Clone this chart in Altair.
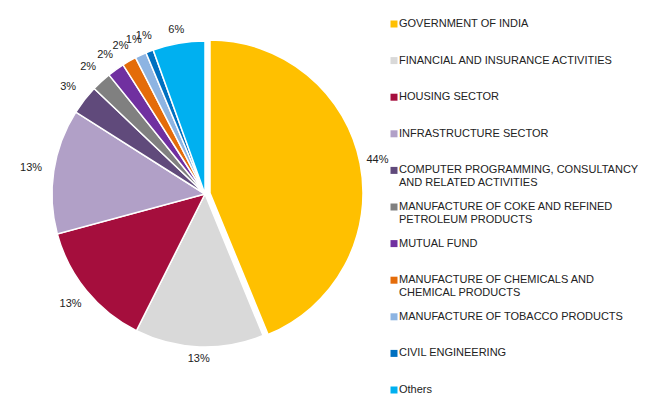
import altair as alt
import pandas as pd

cats = [
    "GOVERNMENT OF INDIA",
    "FINANCIAL AND INSURANCE ACTIVITIES",
    "HOUSING SECTOR",
    "INFRASTRUCTURE SECTOR",
    "COMPUTER PROGRAMMING, CONSULTANCY AND RELATED ACTIVITIES",
    "MANUFACTURE OF COKE AND REFINED PETROLEUM PRODUCTS",
    "MUTUAL FUND",
    "MANUFACTURE OF CHEMICALS AND CHEMICAL PRODUCTS",
    "MANUFACTURE OF TOBACCO PRODUCTS",
    "CIVIL ENGINEERING",
    "Others",
]
legend_line1 = [
    "GOVERNMENT OF INDIA",
    "FINANCIAL AND INSURANCE ACTIVITIES",
    "HOUSING SECTOR",
    "INFRASTRUCTURE SECTOR",
    "COMPUTER PROGRAMMING, CONSULTANCY",
    "MANUFACTURE OF COKE AND REFINED",
    "MUTUAL FUND",
    "MANUFACTURE OF CHEMICALS AND",
    "MANUFACTURE OF TOBACCO PRODUCTS",
    "CIVIL ENGINEERING",
    "Others",
]
legend_line2 = [
    "", "", "", "",
    "AND RELATED ACTIVITIES",
    "PETROLEUM PRODUCTS",
    "",
    "CHEMICAL PRODUCTS",
    "", "", "",
]
values = [43.8, 13.6, 13.4, 13.2, 3.1, 2.1, 1.8, 1.5, 1.2, 0.8, 5.5]
pct_labels = ["44%", "13%", "13%", "13%", "3%", "2%", "2%", "2%", "1%", "1%", "6%"]
colors = ["#FFC000", "#D9D9D9", "#A50E3D", "#B1A0C7", "#604A7B", "#808080",
          "#7030A0", "#E46C0A", "#8DB4E2", "#0070C0", "#00B0F0"]

df = pd.DataFrame({
    "cat": cats,
    "value": values,
    "label": pct_labels,
    "line1": legend_line1,
    "line2": legend_line2,
    "order": list(range(len(cats))),
})

CX, CY, R = 197, 186, 153
FONT = "Liberation Sans"
TXT = "#222222"

base = alt.Chart(df).transform_stack(
    stack="value", groupby=[], as_=["v0", "v1"], sort=[alt.SortField("order")]
).transform_calculate(
    mid="(datum.v0 + datum.v1) / 2",
).transform_calculate(
    lr="165 + 11 * abs(sin(datum.mid / 100 * 2 * PI))",
)

theta_scale = alt.Scale(domain=[0, 100])
color = alt.Color("cat:N", scale=alt.Scale(domain=cats, range=colors), legend=None)

rest = base.transform_filter("datum.order > 0").mark_arc(
    outerRadius=R, stroke="white", strokeWidth=1.5
).encode(
    theta=alt.Theta("v0:Q", scale=theta_scale),
    theta2="v1:Q",
    color=color,
    x=alt.value(CX), y=alt.value(CY),
)

gov = base.transform_filter("datum.order == 0").mark_arc(
    outerRadius=R, stroke="white", strokeWidth=1.5, xOffset=5, yOffset=-1
).encode(
    theta=alt.Theta("v0:Q", scale=theta_scale),
    theta2="v1:Q",
    color=color,
    x=alt.value(CX), y=alt.value(CY),
)

pct = base.mark_text(font=FONT, fontSize=11, color=TXT).encode(
    theta=alt.Theta("mid:Q", scale=theta_scale),
    radius=alt.Radius("lr:Q", scale=None),
    text="label:N",
    x=alt.value(CX), y=alt.value(CY),
)

ypos = alt.Y("cat:N", sort=cats, axis=None,
             scale=alt.Scale(type="point", range=[16, 382], padding=0))

sq = alt.Chart(df).mark_square(size=49, opacity=1).encode(
    x=alt.value(386), y=ypos, color=color,
)
t1 = alt.Chart(df).mark_text(align="left", baseline="middle", font=FONT,
                             fontSize=11, color=TXT).encode(
    x=alt.value(391), y=ypos, text="line1:N",
)
t2 = alt.Chart(df).mark_text(align="left", baseline="middle", font=FONT,
                             fontSize=11, color=TXT, dy=13).encode(
    x=alt.value(391), y=ypos, text="line2:N",
)

chart = alt.layer(rest, gov, pct, sq, t1, t2).properties(
    width=640, height=400,
    autosize=alt.AutoSizeParams(type="none"),
    padding=0,
).configure_view(stroke=None)

chart.save("out.html", embed_options={"renderer": "svg", "actions": False})
